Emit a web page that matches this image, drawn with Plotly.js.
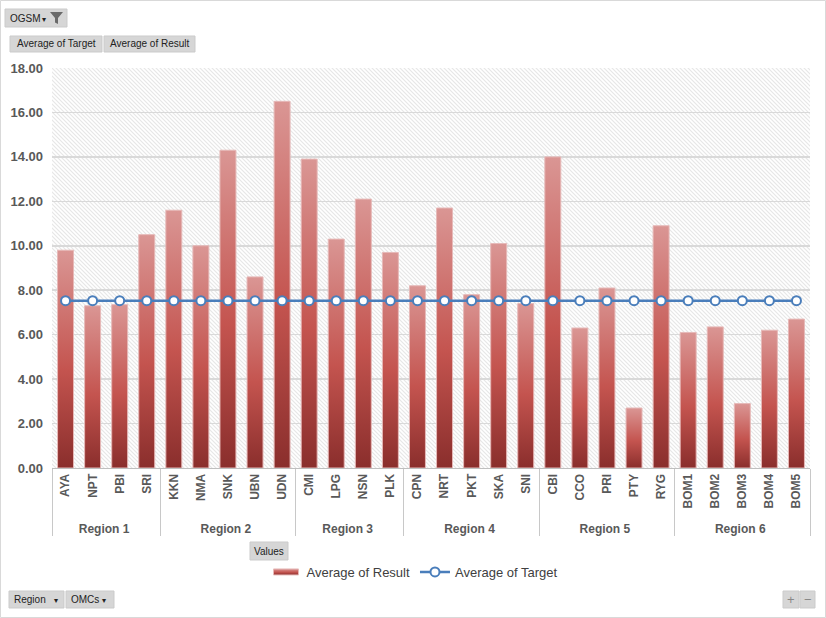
<!DOCTYPE html>
<html><head><meta charset="utf-8">
<script src="https://cdn.plot.ly/plotly-3.0.1.min.js"></script>
<style>html,body{margin:0;padding:0;background:#fff}#chart{width:826px;height:618px}</style>
</head><body><div id="chart"></div>
<script>
// ---- data ----
const regions = ['Region 1','Region 1','Region 1','Region 1',
  'Region 2','Region 2','Region 2','Region 2','Region 2',
  'Region 3','Region 3','Region 3','Region 3',
  'Region 4','Region 4','Region 4','Region 4','Region 4',
  'Region 5','Region 5','Region 5','Region 5','Region 5',
  'Region 6','Region 6','Region 6','Region 6','Region 6'];
const omcs = ['AYA','NPT','PBI','SRI',
  'KKN','NMA','SNK','UBN','UDN',
  'CMI','LPG','NSN','PLK',
  'CPN','NRT','PKT','SKA','SNI',
  'CBI','CCO','PRI','PTY','RYG',
  'BOM1','BOM2','BOM3','BOM4','BOM5'];
const resultValues = [9.8,7.3,7.35,10.5,
  11.6,10.0,14.3,8.6,16.5,
  13.9,10.3,12.1,9.7,
  8.2,11.7,7.8,10.1,7.4,
  14.0,6.3,8.1,2.7,10.9,
  6.1,6.35,2.9,6.2,6.7];
const targetValues = [7.53,7.53,7.53,7.53,
  7.53,7.53,7.53,7.53,7.53,
  7.53,7.53,7.53,7.53,
  7.53,7.53,7.53,7.53,7.53,
  7.53,7.53,7.53,7.53,7.53,
  7.53,7.53,7.53,7.53,7.53];
const yTickVals = [0,2,4,6,8,10,12,14,16,18];
const seriesNames = ['Average of Result','Average of Target'];

// ---- geometry helpers (pixel -> paper) ----
const W=826,H=618,ML=52,MR=16,MT=68,MB=150;
const PW=W-ML-MR, PH=H-MT-MB;
const px = x => (x-ML)/PW;
const py = y => (H-MB-y)/PH;

const btnFont = {family:'Liberation Sans, Arial, sans-serif', size:10, color:'#222'};
function btn(x0,y0,x1,y1){
  return {type:'rect',xref:'paper',yref:'paper',x0:px(x0),x1:px(x1),y0:py(y1),y1:py(y0),
    fillcolor:'#d6d6d6',line:{color:'#cbcbcb',width:1},layer:'above'};
}
function lbl(text,x,y,size,anchor,color){
  return {text:text,xref:'paper',yref:'paper',x:px(x),y:py(y),showarrow:false,
    xanchor:anchor||'center',yanchor:'middle',
    font:Object.assign({},btnFont,{size:size||10},color?{color:color}:{})};
}
function pathP(pts){
  return 'M '+pts.map(p=>px(p[0])+','+py(p[1])).join(' L ')+' Z';
}

const shapes = [
  {type:'rect',xref:'paper',yref:'paper',x0:px(0.5),x1:px(825.5),y0:py(617.5),y1:py(0.5),
    line:{color:'#d9d9d9',width:1},fillcolor:'rgba(0,0,0,0)',layer:'below'},
  btn(5,9,67,27), btn(10,36,102,52), btn(104,36,195,52),
  btn(250,542,288,560), btn(9,591,64,608), btn(66,591,114,608),
  btn(783,591,799,608), btn(800,591,815,608),
  {type:'path',xref:'paper',yref:'paper',path:pathP([[50,12],[63,12],[58,18],[58,24],[55,22.5],[55,18]]),
    fillcolor:'#6a6a6a',line:{width:0},layer:'above'}
];
const annotations = [
  lbl('OGSM',8,18.5,10,'left'), lbl('▾',44,19.5,8),
  lbl('Average of Target',56,44), lbl('Average of Result',149.5,44),
  lbl('Values',269,551),
  lbl('Region',12,599.5,10,'left'), lbl('▾',56,600,8),
  lbl('OMCs',69,599.5,10,'left'), lbl('▾',104,600,8),
  lbl('+',791,599.5,13,'center','#888'),
  lbl('−',807.5,599.5,13,'center','#888')
];

const axisFont = {family:'Liberation Sans, Arial, sans-serif', size:13, color:'#595959', weight:'bold'};

const traces = [
  {type:'bar', name:seriesNames[0], x:[regions,omcs], y:resultValues,
   marker:{color:'#c0504d', line:{color:'#e6b9b8',width:1}}},
  {type:'scatter', mode:'lines+markers', name:seriesNames[1], x:[regions,omcs], y:targetValues,
   line:{color:'#4a7ebb',width:2.5},
   marker:{symbol:'circle',size:9,color:'#ffffff',line:{color:'#4a7ebb',width:2}}}
];

const layout = {
  width:W, height:H,
  margin:{l:ML,r:MR,t:MT,b:MB},
  paper_bgcolor:'#ffffff', plot_bgcolor:'#fefefe',
  bargap:0.41,
  showlegend:true,
  legend:{orientation:'h',x:px(415),xanchor:'center',y:py(572),yanchor:'middle',
    font:{family:'Liberation Sans, Arial, sans-serif',size:13,color:'#404040'},
    traceorder:'normal', itemwidth:30, bgcolor:'rgba(0,0,0,0)'},
  xaxis:{type:'multicategory', range:[-0.5,27.5], tickangle:-90,
    tickfont:Object.assign({},axisFont,{size:12}),
    showdividers:true, dividercolor:'#c8c8c8', dividerwidth:1,
    showline:true, linecolor:'#bfbfbf', linewidth:1, ticks:'', showgrid:false},
  yaxis:{range:[0,18], tickvals:yTickVals, tickformat:'.2f', tickfont:axisFont,
    showgrid:true, gridcolor:'#d9d9d9', gridwidth:1.5, zeroline:false, showline:false,
    ticks:'', ticklabelstandoff:8},
  shapes:shapes, annotations:annotations
};

Plotly.newPlot('chart', traces, layout, {displayModeBar:false, staticPlot:true}).then(gd=>{
  const NS='http://www.w3.org/2000/svg';
  const svg = gd.querySelector('.main-svg');
  let defs = svg.querySelector('defs');
  if(!defs){defs=document.createElementNS(NS,'defs');svg.insertBefore(defs,svg.firstChild);}
  const g = document.createElementNS(NS,'linearGradient');
  g.setAttribute('id','barGrad');g.setAttribute('x1','0');g.setAttribute('y1','0');g.setAttribute('x2','0');g.setAttribute('y2','1');
  [['0%','#da9694'],['55%','#c4544f'],['100%','#8a2e2c']].forEach(s=>{
    const st=document.createElementNS(NS,'stop');st.setAttribute('offset',s[0]);st.setAttribute('stop-color',s[1]);g.appendChild(st);
  });
  defs.appendChild(g);
  const pat = document.createElementNS(NS,'pattern');
  pat.setAttribute('id','hatch');pat.setAttribute('patternUnits','userSpaceOnUse');
  pat.setAttribute('width','4');pat.setAttribute('height','4');
  const pr=document.createElementNS(NS,'rect');pr.setAttribute('width','4');pr.setAttribute('height','4');pr.setAttribute('fill','#ffffff');pat.appendChild(pr);
  const pp=document.createElementNS(NS,'path');pp.setAttribute('d','M-1,-1 L5,5 M-1,3 L1,5 M3,-1 L5,1');
  pp.setAttribute('stroke','#e6e6e6');pp.setAttribute('stroke-width','1.1');pat.appendChild(pp);
  defs.appendChild(pat);
  gd.querySelectorAll('rect.bg').forEach(r=>{ if(!r.closest('.legend')) r.style.fill='url(#hatch)'; });
  gd.querySelectorAll('.barlayer .point path').forEach(p=>{p.style.fill='url(#barGrad)';});
  const lp = gd.querySelectorAll('.legend .traces')[0];
  if(lp){lp.querySelectorAll('.legendpoints path').forEach(p=>{p.style.fill='url(#barGrad)';p.setAttribute('d','M-13,-3h25v6h-25z');});}
});
</script></body></html>
